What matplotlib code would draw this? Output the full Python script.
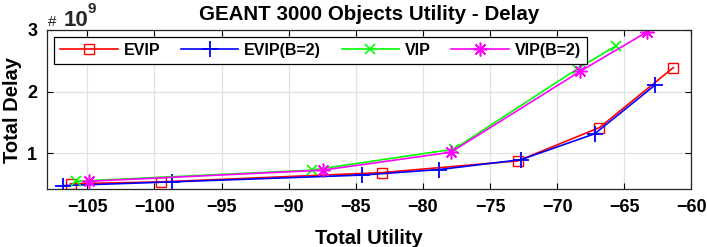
import matplotlib
matplotlib.use('Agg')
import matplotlib.pyplot as plt

plt.rcParams['font.family'] = ['Liberation Sans', 'DejaVu Sans']
plt.rcParams['font.weight'] = 'bold'

# utility (x) and delay in units of 1e9 (y)
evip_x = [-106.25, -99.5, -83.08, -72.93, -66.85, -61.35]
evip_y = [0.51, 0.54, 0.69, 0.88, 1.42, 2.39]
evip2_x = [-106.8, -98.7, -84.57, -78.78, -72.7, -67.2, -62.7]
evip2_y = [0.48, 0.54, 0.65, 0.74, 0.90, 1.32, 2.11]
vip_x = [-105.87, -88.3, -77.7, -68.5, -65.65]
vip_y = [0.55, 0.73, 1.07, 2.37, 2.74]
vip2_x = [-104.88, -87.48, -77.92, -68.3, -63.3]
vip2_y = [0.55, 0.73, 1.02, 2.33, 2.97]

fig = plt.figure(figsize=(7.07, 2.47), dpi=100)
ax = fig.add_axes([0.0665, 0.2336, 0.9115, 0.645])

ax.plot(evip_x, evip_y, color='red', marker='s', mfc='none', ms=7, lw=1.2, label='EVIP')
ax.plot(evip2_x, evip2_y, color='blue', marker='+', ms=11, mew=1.3, lw=1.2, label='EVIP(B=2)')
ax.plot(vip_x, vip_y, color='#00ff00', marker='x', ms=7, mew=1.2, lw=1.2, label='VIP')
ax.plot(vip2_x, vip2_y, color='magenta', marker=(8, 2, 0), ms=10, mew=1.1, lw=1.2, label='VIP(B=2)')

ax.set_xlim(-108, -60)
ax.set_ylim(0.42, 3)
ax.set_xticks(range(-105, -59, 5))
ax.set_yticks([1, 2, 3])
ax.grid(True, color='#e0e0e0', lw=0.9)
ax.set_axisbelow(True)
ax.tick_params(direction='in', top=True, right=True, labelsize=13, length=4, pad=7)
for s in ax.spines.values():
    s.set_color('#262626')
    s.set_linewidth(0.9)

ax.set_title('GEANT 3000 Objects Utility - Delay', fontsize=14.8, fontweight='bold', pad=7)
ax.set_xlabel('Total Utility', fontsize=14.5, fontweight='bold', labelpad=9)
ax.set_ylabel('Total Delay', fontsize=14.5, fontweight='bold', labelpad=4)

leg = ax.legend(loc='upper left', bbox_to_anchor=(0.011, 0.958), ncol=4, fontsize=11.5,
                handlelength=3.6, handletextpad=0.35, columnspacing=1.3, fancybox=False,
                edgecolor='black', framealpha=1, borderaxespad=0, borderpad=0.4)
leg.get_frame().set_linewidth(0.9)
for t in leg.get_texts():
    t.set_fontweight('bold')

fig.text(48 / 707, 1 - 26 / 247, '#', fontsize=11, fontweight='normal', color='#262626')
fig.text(64 / 707, 1 - 26 / 247, '10', fontsize=16, fontweight='bold', color='#262626')
fig.text(88 / 707, 1 - 13 / 247, '9', fontsize=11, fontweight='bold', color='#262626')

fig.savefig('out.png', dpi=100)
